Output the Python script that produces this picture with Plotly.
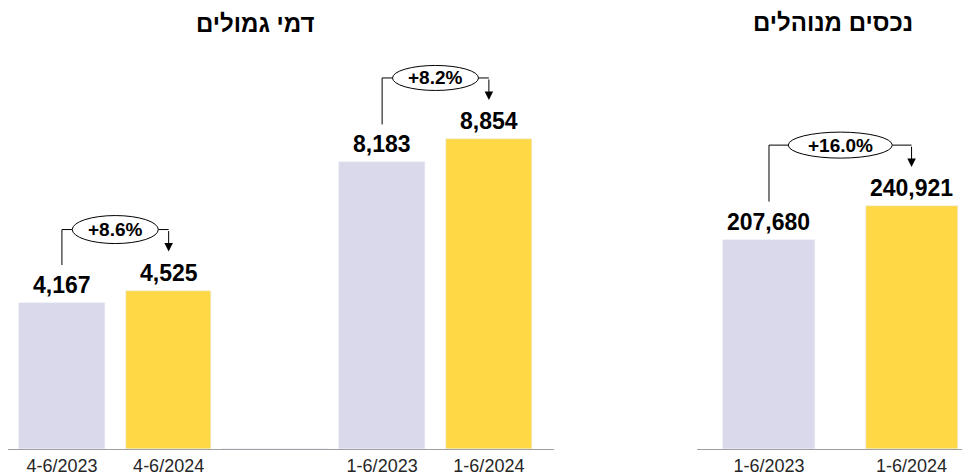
import plotly.graph_objects as go

# ---------------- data ----------------
left_title = "דמי גמולים"
right_title = "נכסים מנוהלים"

left_categories = ["4-6/2023", "4-6/2024", "spacer", "1-6/2023", "1-6/2024"]
left_tick_text = ["4-6/2023", "4-6/2024", "", "1-6/2023", "1-6/2024"]
left_prev_cats = ["4-6/2023", "1-6/2023"]
left_prev_vals = [4167, 8183]
left_curr_cats = ["4-6/2024", "1-6/2024"]
left_curr_vals = [4525, 8854]
left_changes = ["+8.6%", "+8.2%"]

right_categories = ["1-6/2023", "1-6/2024"]
right_prev_vals = [207680]
right_curr_vals = [240921]
right_changes = ["+16.0%"]

# ---------------- style ----------------
OFF = 8                      # page body margin
W, H = 970 - OFF, 475 - OFF  # figure size so it fills the window
LAV = "#D9D9EB"
YEL = "#FFD945"
FONT = "Liberation Sans, Arial, sans-serif"
base_px = 449 - OFF
top_px = 40 - OFF
plot_h = base_px - top_px
y_dom = [(H - base_px) / H, (H - top_px) / H]
left_ymax = 11680
right_ymax = 405700
left_xdom = [0.0, (554 - OFF) / W]
left_xrange = [-0.505, 4.61]
right_xdom = [(697 - OFF) / W, 1.0]
right_xrange = [-0.505, 1.41]

fig = go.Figure()

# left chart bars
fig.add_trace(go.Bar(x=["spacer"], y=[0], marker_color="rgba(0,0,0,0)",
                     xaxis="x", yaxis="y", showlegend=False, hoverinfo="skip"))
fig.add_trace(go.Bar(x=left_prev_cats, y=left_prev_vals, marker_color=LAV, width=0.8,
                     xaxis="x", yaxis="y", showlegend=False))
fig.add_trace(go.Bar(x=left_curr_cats, y=left_curr_vals, marker_color=YEL, width=0.8,
                     xaxis="x", yaxis="y", showlegend=False))
# right chart bars
fig.add_trace(go.Bar(x=right_categories[:1], y=right_prev_vals, marker_color=LAV, width=0.645,
                     xaxis="x2", yaxis="y2", showlegend=False))
fig.add_trace(go.Bar(x=right_categories[1:], y=right_curr_vals, marker_color=YEL, width=0.645,
                     xaxis="x2", yaxis="y2", showlegend=False))


def value_label(xref, yref, cat, val):
    fig.add_annotation(x=cat, y=val, xref=xref, yref=yref, text=f"<b>{val:,}</b>",
                       showarrow=False, yanchor="bottom", yshift=3,
                       font=dict(family=FONT, size=23, color="#000000"))


def change_marker(xref, yref, i1, i2, v1, v2, label, ymax, xdom, xrange_, ell_w, ell_h):
    upp = ymax / plot_h
    px_per_x = (xdom[1] - xdom[0]) * W / (xrange_[1] - xrange_[0])
    start = v1 + 38 * upp
    level = v2 + 61 * upp
    end = v2 + 39 * upp
    mid = (i1 + i2) / 2
    half = ell_w / 2 / px_per_x
    ln = dict(color="#000000", width=1)
    fig.add_shape(type="line", xref=xref, yref=yref, x0=i1, x1=i1, y0=start, y1=level, line=ln)
    fig.add_shape(type="line", xref=xref, yref=yref, x0=i1, x1=mid - half, y0=level, y1=level, line=ln)
    fig.add_shape(type="line", xref=xref, yref=yref, x0=mid + half, x1=i2, y0=level, y1=level, line=ln)
    fig.add_annotation(x=i2, y=end, ax=i2, ay=level, xref=xref, yref=yref, axref=xref, ayref=yref,
                       text="", showarrow=True, arrowhead=2, arrowsize=1.7, arrowwidth=1,
                       arrowcolor="#000000", standoff=0, startstandoff=0)
    fig.add_shape(type="circle", xref=xref, yref=yref, xsizemode="pixel", ysizemode="pixel",
                  xanchor=mid, yanchor=level, x0=-ell_w / 2, x1=ell_w / 2,
                  y0=-ell_h / 2, y1=ell_h / 2, fillcolor="white", line=ln)
    fig.add_annotation(x=mid, y=level, xref=xref, yref=yref, text=f"<b>{label}</b>",
                       showarrow=False, font=dict(family=FONT, size=19, color="#000000"))


for c, v in zip(left_prev_cats, left_prev_vals):
    value_label("x", "y", c, v)
for c, v in zip(left_curr_cats, left_curr_vals):
    value_label("x", "y", c, v)
value_label("x2", "y2", right_categories[0], right_prev_vals[0])
value_label("x2", "y2", right_categories[1], right_curr_vals[0])

ell_sizes = [(86, 28), (86, 25)]
for k in range(len(left_changes)):
    i1 = left_categories.index(left_prev_cats[k])
    i2 = left_categories.index(left_curr_cats[k])
    change_marker("x", "y", i1, i2, left_prev_vals[k], left_curr_vals[k], left_changes[k],
                  left_ymax, left_xdom, left_xrange, *ell_sizes[k])
change_marker("x2", "y2", 0, 1, right_prev_vals[0], right_curr_vals[0], right_changes[0],
              right_ymax, right_xdom, right_xrange, 104, 26)

fig.add_annotation(x=(255 - OFF) / W, y=1 - (23 - OFF) / H, xref="paper", yref="paper",
                   xanchor="center", yanchor="middle", text=f"<b>{left_title}</b>",
                   showarrow=False, font=dict(family=FONT, size=24, color="#000000"))
fig.add_annotation(x=(833 - OFF) / W, y=1 - (22 - OFF) / H, xref="paper", yref="paper",
                   xanchor="center", yanchor="middle", text=f"<b>{right_title}</b>",
                   showarrow=False, font=dict(family=FONT, size=24, color="#000000"))

axis_common = dict(showgrid=False, zeroline=False, ticks="", showline=True,
                   linecolor="#A0A0A0", linewidth=1, automargin=False,
                   tickfont=dict(family=FONT, size=18, color="#262626"))
fig.update_layout(
    width=W, height=H,
    margin=dict(l=0, r=0, t=0, b=0, pad=0),
    paper_bgcolor="white", plot_bgcolor="white",
    bargap=0, barmode="overlay",
    xaxis=dict(domain=left_xdom, range=left_xrange, type="category",
               categoryorder="array", categoryarray=left_categories,
               tickvals=left_categories, ticktext=left_tick_text, anchor="y", **axis_common),
    yaxis=dict(domain=y_dom, range=[0, left_ymax], visible=False, anchor="x"),
    xaxis2=dict(domain=right_xdom, range=right_xrange, type="category",
                categoryorder="array", categoryarray=right_categories, anchor="y2", **axis_common),
    yaxis2=dict(domain=y_dom, range=[0, right_ymax], visible=False, anchor="x2"),
)

fig.write_html("out.html")
